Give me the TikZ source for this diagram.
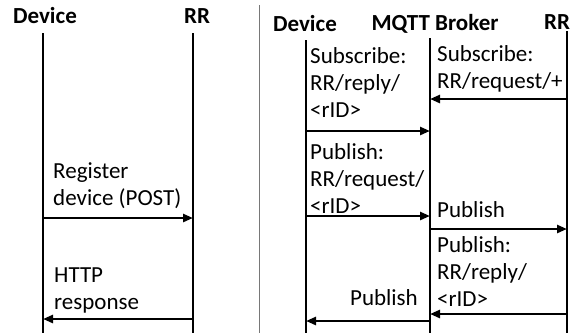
\documentclass[tikz,border=0pt]{standalone}
\usepackage{fontspec}
\setmainfont{Carlito}
\usepackage{xcolor}
\usetikzlibrary{arrows.meta,positioning}
\definecolor{divgray}{RGB}{120,120,120}
\tikzset{
  % 标题
  head/.style={font=\fontsize{23}{27}\selectfont\bfseries, inner sep=0pt},
  % 消息文字
  lbl/.style={font=\fontsize{23}{27}\selectfont, align=left, inner sep=0pt},
  % 生命线
  life/.style={line width=2.4pt, black},
  % 箭头样式
  msg/.style={-{Triangle[length=10pt,width=8pt]}, line width=2.6pt, black},
}
\begin{document}
\begin{tikzpicture}[x=1pt,y=-1pt]
    \useasboundingbox (0,0) rectangle (576,333);

    % Headers
    \node[head] (devL) at (45,16) {Device};
    \node[head] (rrL)  at (197,16) {RR};
    \node[head] (devR) at (305,24) {Device};
    \node[head] (mqtt) at (435,24) {MQTT Broker};
    \node[head] (rrR)  at (557,22) {RR};

    % Lifelines
    \coordinate (ldev) at (43,33);
    \coordinate (lrr)  at (193,33);
    \coordinate (rdev) at (306,40);
    \coordinate (rmq)  at (430,38);
    \coordinate (rrr)  at (567,31);
    \foreach \c in {ldev, lrr, rdev, rmq, rrr} {
        \draw[life] (\c) -- (\c |- 0,333);
    }

    % Divider
    \coordinate (divtop) at (259.5,5);
    \draw[divgray, line width=0.8pt] (divtop) -- (divtop |- 0,333);

    % Messages
    \foreach \y/\a/\b in {218/ldev/lrr, 319/lrr/ldev,
                          99/rrr/rmq, 131/rdev/rmq, 216/rdev/rmq,
                          229/rmq/rrr, 314/rrr/rmq, 321/rmq/rdev} {
        \draw[msg] (\a |- 0,\y) -- (\b |- 0,\y);
    }

    % Labels
    \node[lbl, anchor=west] (reg)  at (53,185.5) {Register\\device (POST)};
    \node[lbl, anchor=west] (http) at (54,290)   {HTTP\\response};
    \node[lbl, anchor=west] (subd) at (310,83)   {Subscribe:\\RR/reply/\\<rID>};
    \node[lbl, anchor=west] (subr) at (437,68.5) {Subscribe:\\RR/request/+};
    \node[lbl, anchor=west] (pubd) at (310,179)  {Publish:\\RR/request/\\<rID>};
    \node[lbl, anchor=west] (pubb) at (437,210)  {Publish};
    \node[lbl, anchor=west] (pubr) at (437,272)  {Publish:\\RR/reply/\\<rID>};
    \node[lbl, anchor=east] (pubm) at (418,298)  {Publish};
\end{tikzpicture}
\end{document}
